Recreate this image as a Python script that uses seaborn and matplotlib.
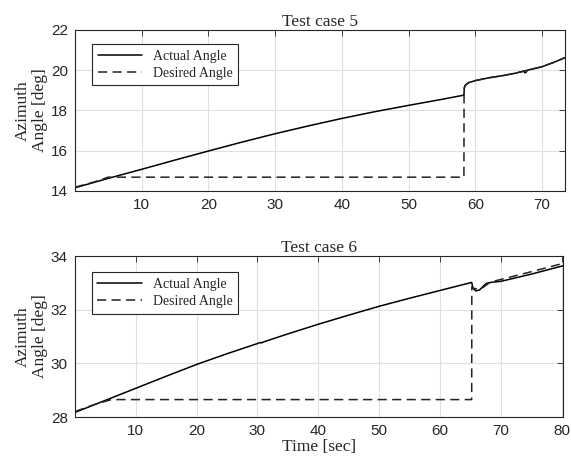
import matplotlib
matplotlib.use('Agg')
import matplotlib.pyplot as plt
import seaborn as sns
import pandas as pd

# Test case 5
t5_actual = [0, 5, 10, 15, 20, 25, 30, 35, 40, 45, 50, 55, 58.3, 58.35, 58.5, 59, 60, 61, 62,
             63.5, 64, 66, 67.3, 67.4, 67.6, 67.8, 70, 72, 73.4]
a5_actual = [14.15, 14.62, 15.07, 15.53, 15.98, 16.42, 16.84, 17.23, 17.6, 17.94, 18.25, 18.55, 18.76,
             19.1, 19.25, 19.38, 19.48, 19.55, 19.62, 19.7, 19.72, 19.85, 19.95, 19.87, 19.89, 20.0,
             20.17, 20.42, 20.62]
t5_desired = [0, 3, 5, 58.3, 58.32, 58.5, 59, 60, 62, 64, 66, 68, 70, 72, 73.4]
a5_desired = [14.18, 14.45, 14.68, 14.68, 19.1, 19.25, 19.38, 19.48, 19.62, 19.72, 19.85, 20.02,
              20.17, 20.42, 20.62]

# Test case 6
t6_actual = [0, 5, 10, 15, 20, 25, 30, 30.4, 30.6, 31, 35, 40, 45, 50, 55, 60, 65.2, 65.4, 65.9,
             66.5, 67.2, 67.6, 68.3, 70, 75, 80.2]
a6_actual = [28.17, 28.62, 29.07, 29.52, 29.96, 30.36, 30.74, 30.78, 30.76, 30.8, 31.1, 31.46,
             31.8, 32.13, 32.43, 32.72, 33.02, 32.8, 32.7, 32.74, 32.9, 32.98, 33.02, 33.06,
             33.33, 33.64]
t6_desired = [0, 3, 6, 65.2, 65.22, 65.5, 66, 67, 68.3, 70, 75, 80.2]
a6_desired = [28.2, 28.45, 28.65, 28.65, 32.85, 32.8, 32.78, 32.82, 33.04, 33.13, 33.42, 33.73]

sns.set_style('white')
plt.rcParams['font.family'] = ['Liberation Serif', 'DejaVu Serif']

fig = plt.figure(figsize=(5.71, 4.61), dpi=100)
ax1 = fig.add_axes([0.131, 0.586, 0.858, 0.349])
ax2 = fig.add_axes([0.131, 0.0954, 0.855, 0.349])

panels = [
    (ax1, t5_actual, a5_actual, t5_desired, a5_desired, 'Test case 5', (0, 73.4), (14, 22),
     [14, 16, 18, 20, 22], 0.913),
    (ax2, t6_actual, a6_actual, t6_desired, a6_desired, 'Test case 6', (0, 80.2), (28, 34),
     [28, 30, 32, 34], 0.899),
]

for ax, ta, aa, td, ad, title, xlim, ylim, yticks, leg_top in panels:
    df_a = pd.DataFrame({'t': ta, 'angle': aa})
    df_d = pd.DataFrame({'t': td, 'angle': ad})
    sns.lineplot(data=df_a, x='t', y='angle', ax=ax, color='black', lw=1.1,
                 label='Actual Angle', sort=False, estimator=None)
    sns.lineplot(data=df_d, x='t', y='angle', ax=ax, color='#222222', lw=1.1,
                 dashes=False, label='Desired Angle', sort=False, estimator=None)
    ax.lines[1].set_dashes((6, 3.5))
    ax.set_xlim(*xlim)
    ax.set_ylim(*ylim)
    ax.set_xticks([10, 20, 30, 40, 50, 60, 70] + ([80] if xlim[1] > 79 else []))
    ax.set_yticks(yticks)
    ax.grid(True, color='#e0e0e0', lw=0.8)
    ax.set_axisbelow(True)
    for s in ax.spines.values():
        s.set_color('#262626')
        s.set_linewidth(0.8)
    ax.tick_params(direction='in', top=True, right=True, length=4, width=0.6,
                   labelsize=11, color='#262626', pad=5)
    for lab in ax.get_xticklabels() + ax.get_yticklabels():
        lab.set_family('Liberation Sans')
        lab.set_color('#262626')
    ax.set_title(title, fontsize=12.5, pad=3)
    ax.set_ylabel('Azimuth\nAngle [deg]', fontsize=12.5, linespacing=1.1, labelpad=2)
    ax.set_xlabel('')
    leg = ax.legend(loc='upper left', bbox_to_anchor=(0.035, leg_top), borderaxespad=0,
                    fancybox=False, framealpha=1, edgecolor='#262626', fontsize=10,
                    handlelength=3.2, borderpad=0.4, labelspacing=0.3)
    leg.get_frame().set_linewidth(0.8)

ax2.set_xlabel('Time [sec]', fontsize=12.5, labelpad=1)

fig.savefig('out.png', dpi=100)
